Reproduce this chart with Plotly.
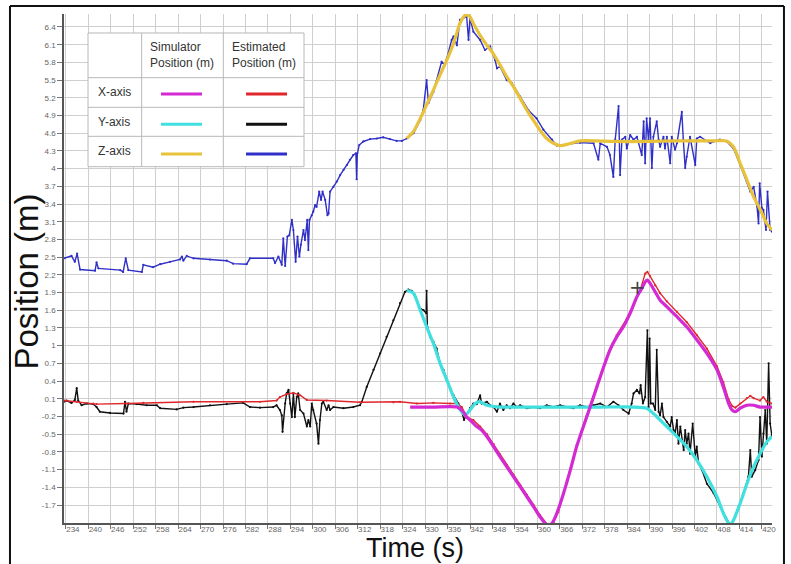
import plotly.graph_objects as go

# ---------------- data ----------------
x_ticks = [234, 240, 246, 252, 258, 264, 270, 276, 282, 288, 294, 300, 306, 312,
           318, 324, 330, 336, 342, 348, 354, 360, 366, 372, 378, 384, 390, 396,
           402, 408, 414, 420]
y_ticks = [6.4, 6.1, 5.8, 5.5, 5.2, 4.9, 4.6, 4.3, 4.0, 3.7, 3.4, 3.1, 2.8, 2.5,
           2.2, 1.9, 1.6, 1.3, 1.0, 0.7, 0.4, 0.1, -0.2, -0.5, -0.8, -1.1, -1.4, -1.7]
y_tick_text = ["6.4", "6.1", "5.8", "5.5", "5.2", "4.9", "4.6", "4.3", "4", "3.7",
               "3.4", "3.1", "2.8", "2.5", "2.2", "1.9", "1.6", "1.3", "1", "0.7",
               "0.4", "0.1", "-0.2", "-0.5", "-0.8", "-1.1", "-1.4", "-1.7"]

# Z-axis estimated position (blue)
z_est_t = [233.5, 235.5, 236.4, 237.0, 237.8, 241.8, 242.2, 242.7, 248.5, 249.3, 250.0,
           250.7, 254.3, 254.7, 257.3, 259.2, 261.8, 264.5, 265.0, 265.4, 266.3, 268.1,
           272.5, 277.0, 278.7, 282.3, 283.2, 289.4, 289.9,
           290.8, 291.7, 292.1, 292.6, 293.2, 293.7, 294.4, 294.8, 295.4, 295.9, 296.4,
           296.8, 297.5, 297.9, 298.5, 298.8, 299.1, 299.7, 300.1, 300.6, 301.0, 301.7,
           302.2, 302.6, 303.3, 303.9, 304.2, 304.6, 305.5, 306.4, 307.3, 308.2, 309.1,
           309.9, 310.8, 311.5, 311.7, 311.9, 312.4, 313.5, 315.3, 317.1, 318.8, 320.6,
           322.4, 323.8,
           325.1, 326.9, 328.7, 329.5, 330.4, 330.9, 332.2, 334.4, 335.3, 335.8, 337.1,
           337.6, 338.5, 339.3, 340.2, 341.1, 341.6, 342.0, 342.9, 344.7, 346.0, 347.4,
           348.7, 349.2, 350.0, 351.8, 353.2, 355.4, 357.6, 359.8, 361.6, 363.9, 365.2,
           367.9, 371.4, 375.0, 376.3, 376.8, 378.6, 379.4, 380.3, 380.8, 381.7, 382.1,
           382.6, 383.5, 383.9, 384.8, 385.7, 386.6, 387.9, 388.4, 388.8, 389.2, 389.7,
           390.1, 390.6, 391.0, 391.9, 392.4, 392.8, 393.7, 394.1, 394.6, 395.5, 395.9,
           396.8, 397.3, 398.6, 399.0, 399.5, 399.9, 400.8, 402.2, 402.6, 403.5, 406.2,
           407.1, 408.8, 410.6, 412.4, 414.2, 416.0, 416.9, 417.8, 418.7, 419.1, 419.4,
           420.0, 420.4, 421.1, 421.5, 422.2, 422.7]
z_est_v = [2.48, 2.52, 2.42, 2.56, 2.29, 2.27, 2.41, 2.31, 2.28, 2.25, 2.48,
           2.28, 2.25, 2.37, 2.33, 2.38, 2.42, 2.46, 2.51, 2.44, 2.52, 2.48,
           2.46, 2.44, 2.39, 2.38, 2.48, 2.48, 2.40,
           2.51, 2.37, 2.82, 2.35, 2.85, 2.87, 3.13, 2.96, 2.42, 2.85, 2.51,
           2.71, 2.96, 2.79, 3.13, 2.62, 3.13, 3.21, 3.27, 3.38, 3.35, 3.61,
           3.47, 3.61, 3.47, 3.21, 3.24, 3.61, 3.69, 3.78, 3.89, 3.98, 4.06,
           4.15, 4.23, 4.26, 3.82, 4.26, 4.40, 4.46, 4.50, 4.51, 4.53, 4.50,
           4.47, 4.47,
           4.51, 4.60, 4.82, 4.99, 5.50, 5.11, 5.30, 5.81, 5.76, 5.87, 6.18,
           6.24, 6.09, 6.52, 6.55, 6.58, 6.18, 6.55, 6.32, 6.18, 6.01, 6.07,
           5.84, 5.70, 5.73, 5.50, 5.45, 5.22, 4.99, 4.85, 4.66, 4.49, 4.39,
           4.41, 4.44, 4.43, 4.15, 4.43, 4.37, 4.23, 3.86, 4.49, 5.06, 3.89,
           4.49, 4.54, 4.34, 4.57, 4.49, 4.54, 4.23, 4.80, 4.09, 4.85, 4.49,
           4.85, 4.01, 4.54, 4.80, 4.49, 4.37, 4.54, 4.34, 4.54, 4.09, 4.54,
           4.32, 4.43, 4.96, 4.49, 4.01, 4.20, 4.54, 4.06, 4.51, 4.54, 4.43,
           4.46, 4.49, 4.46, 4.34, 4.06, 3.78, 3.61, 3.69, 3.36, 3.07, 3.75,
           3.33, 3.30, 2.96, 3.61, 2.96, 2.93]

# Z-axis simulator position (yellow)
z_sim_t = [325.1, 326.9, 328.7, 330.4, 332.2, 334.0, 335.8, 337.6, 339.3, 340.7, 341.8,
           342.9, 344.7, 346.5, 348.2, 350.0, 351.8, 353.6, 355.4, 357.2, 358.9, 360.7,
           362.5, 364.3, 366.1, 367.9, 371.4, 375.9, 380.3, 389.3, 398.2, 407.1, 410.6,
           412.4, 414.2, 416.0, 417.8, 419.6, 421.3, 422.7]
z_sim_v = [4.51, 4.63, 4.85, 5.08, 5.33, 5.59, 5.84, 6.12, 6.46, 6.60, 6.59,
           6.46, 6.26, 6.09, 5.95, 5.76, 5.56, 5.39, 5.19, 4.99, 4.82, 4.65,
           4.51, 4.43, 4.39, 4.41, 4.47, 4.47, 4.46, 4.46, 4.47, 4.47, 4.47,
           4.37, 4.09, 3.81, 3.52, 3.30, 3.07, 2.96]

# X-axis estimated position (red)
x_est_t = [233.5, 236.9, 241.3, 242.2, 250.2, 254.7, 268.1, 285.9, 290.3, 291.2, 293.0,
           294.8, 296.6, 298.4, 303.7, 312.6, 321.5,
           323.3, 327.8, 332.2, 336.7, 338.5, 339.8, 341.1, 342.9, 344.7, 346.5, 348.3,
           350.0, 351.8, 353.6, 355.4, 357.2, 359.0, 360.7, 362.5, 363.4, 364.3, 365.6,
           367.9, 370.5, 373.2, 375.9, 378.6, 381.2, 383.9, 385.7, 387.5, 388.8, 389.4,
           390.1, 391.5, 392.8, 394.6, 397.3, 399.9, 402.6, 405.3, 408.0, 409.7, 411.1,
           412.0, 412.9, 414.2, 416.0, 416.9, 417.8, 419.5, 420.4, 421.3, 422.7]
x_est_v = [0.07, 0.05, 0.02, 0.01, 0.02, 0.03, 0.05, 0.05, 0.07, 0.13, 0.18,
           0.20, 0.16, 0.08, 0.07, 0.04, 0.04,
           0.05, 0.02, 0.03, 0.02, 0.02, -0.04, -0.21, -0.26, -0.37, -0.50, -0.67,
           -0.84, -1.02, -1.19, -1.36, -1.53, -1.70, -1.87, -2.02, -2.04, -2.00, -1.82,
           -1.28, -0.69, -0.18, 0.33, 0.78, 1.18, 1.46, 1.69, 1.94, 2.22, 2.25,
           2.18, 2.02, 1.89, 1.75, 1.57, 1.40, 1.18, 0.95, 0.65, 0.38, 0.09,
           -0.02, -0.05, 0.02, 0.11, 0.15, 0.11, 0.07, 0.13, 0.05, 0.02]

# X-axis simulator position (magenta)
x_sim_t = [326.0, 332.2, 338.5, 340.2, 341.1, 342.5, 343.8, 345.1, 346.5, 348.3, 350.0,
           351.8, 353.6, 355.4, 357.2, 359.0, 360.7, 362.1, 363.0, 363.9, 365.2, 367.0,
           368.8, 370.5, 372.3, 374.1, 375.9, 377.7, 379.4, 381.2, 383.0, 384.8, 386.6,
           387.9, 388.8, 389.4, 390.1, 391.5, 392.8, 394.6, 397.3, 399.9, 402.6, 405.3,
           408.0, 409.7, 411.1, 412.0, 412.9, 414.2, 416.0, 417.8, 419.5, 422.7]
x_sim_v = [-0.04, -0.04, -0.04, -0.12, -0.21, -0.29, -0.37, -0.43, -0.54, -0.71, -0.88,
           -1.05, -1.22, -1.39, -1.56, -1.73, -1.90, -2.01, -2.04, -2.01, -1.84, -1.50,
           -1.11, -0.71, -0.37, -0.04, 0.30, 0.64, 0.93, 1.15, 1.32, 1.55, 1.83,
           1.97, 2.08, 2.11, 2.06, 1.91, 1.77, 1.66, 1.49, 1.32, 1.10, 0.87,
           0.59, 0.30, 0.02, -0.09, -0.12, -0.06, -0.01, -0.01, -0.04, -0.04]

# Y-axis estimated position (black)
y_est_t = [233.5, 234.2, 235.5, 236.4, 236.9, 237.3, 238.2, 239.6, 241.3, 242.2, 243.1,
           245.8, 249.4, 249.8, 250.2, 250.7, 252.9, 255.6, 258.3, 259.2, 263.6, 265.4,
           268.1, 272.5, 277.0, 281.4, 283.2, 285.9, 289.4, 290.3, 291.2, 291.7, 291.9,
           292.6, 293.0, 293.5, 293.9, 294.4, 294.8, 295.2, 295.7, 296.1, 296.6, 297.5,
           298.4, 298.8, 299.3, 299.7, 300.1, 301.0, 301.5, 301.9, 302.4, 302.8, 303.7,
           304.2, 304.6, 305.5, 308.2, 310.8, 312.6, 313.1, 314.4, 316.2, 318.0, 319.7,
           321.5, 323.3, 324.6, 325.5, 326.4,
           327.3, 328.7, 329.6, 330.3, 330.4, 330.6, 331.3, 332.2, 333.1, 334.0, 334.9,
           335.8, 336.7, 337.6, 338.9, 339.8, 340.4, 341.1, 342.0, 342.9, 343.8, 344.7,
           345.1, 346.5, 347.4, 348.3, 349.2, 350.0, 350.9, 351.8, 352.7, 353.6, 354.5,
           355.4, 357.2, 359.0, 360.7, 362.5, 364.3, 366.1, 367.9, 369.6, 371.4, 373.2,
           375.0, 376.8, 378.6, 380.3, 381.7, 383.0, 384.4, 385.2, 385.7, 386.6, 387.3,
           387.6, 388.2, 388.8, 389.4, 389.7, 390.0, 390.3, 390.9, 391.5, 391.9, 392.4,
           392.8, 393.3, 393.7, 394.6, 395.5, 395.9, 396.4, 396.8, 397.3, 397.7, 398.2,
           399.1, 399.5, 399.9, 400.4, 400.8, 401.5, 402.2, 402.6, 403.1, 404.0, 405.3,
           407.1, 408.9, 410.2, 411.1, 411.5, 412.4, 413.8, 415.1, 416.4, 416.9, 417.3,
           418.2, 419.1, 419.5, 420.0, 420.4, 420.9, 421.3, 421.8, 422.2, 422.7]
y_est_v = [0.05, 0.07, 0.03, 0.08, 0.28, 0.07, -0.01, 0.02, 0.01, -0.04, -0.12,
           -0.14, -0.15, 0.05, -0.12, 0.02, 0.01, -0.01, -0.01, -0.06, -0.08, -0.05,
           -0.04, -0.01, 0.01, 0.03, -0.04, -0.05, -0.04, -0.01, -0.09, -0.18, -0.46,
           0.02, 0.19, 0.25, 0.02, -0.21, 0.19, -0.21, 0.13, 0.19, -0.09, -0.15,
           -0.37, -0.26, -0.37, 0.02, -0.09, -0.32, -0.66, -0.26, 0.02, 0.05, -0.09,
           -0.01, -0.09, -0.04, -0.06, -0.04, -0.01, 0.05, 0.30, 0.59, 0.87, 1.15,
           1.43, 1.72, 1.91, 1.95, 1.93,
           1.83, 1.63, 1.60, 1.55, 1.93, 1.32, 1.15, 1.07, 0.95, 0.70, 0.59,
           0.42, 0.28, 0.16, 0.02, -0.12, -0.26, -0.16, -0.06, 0.02, 0.01, 0.16,
           0.02, 0.05, -0.01, -0.04, -0.12, 0.02, -0.09, -0.01, -0.06, 0.02, -0.04,
           -0.01, -0.06, -0.04, -0.06, -0.01, -0.04, -0.01, -0.04, -0.06, -0.01, -0.04,
           -0.01, 0.02, -0.04, 0.05, -0.01, -0.09, -0.15, 0.02, 0.19, 0.25, 0.19,
           0.33, 0.02, 0.13, 1.26, -0.04, 1.12, 0.02, 0.02, -0.09, 0.93, -0.12,
           -0.18, 0.02, -0.21, -0.29, -0.37, -0.21, -0.43, -0.49, -0.26, -0.66, -0.37,
           -0.77, -0.43, -0.66, -0.49, -0.83, -0.32, -0.88, -0.71, -1.00, -1.11, -1.34,
           -1.50, -1.73, -1.90, -2.01, -2.04, -1.96, -1.73, -1.50, -1.22, -0.77, -1.22,
           -1.11, -0.94, -0.21, -0.88, -0.49, -0.09, -0.66, 0.70, -0.32, -0.54]

# Y-axis simulator position (cyan)
y_sim_t = [325.1, 326.9, 328.7, 330.4, 332.2, 334.0, 335.8, 337.6, 338.9, 340.2, 341.1,
           342.0, 343.4, 344.7, 346.5, 350.0, 359.0, 367.9, 376.8, 385.7, 389.2, 391.0,
           392.8, 394.6, 397.3, 399.9, 402.6, 405.3, 408.0, 409.7, 411.1, 411.5, 412.4,
           414.2, 416.0, 417.8, 419.5, 421.3, 422.7]
y_sim_v = [1.94, 1.89, 1.60, 1.32, 1.04, 0.70, 0.42, 0.13, -0.04, -0.15, -0.16,
           -0.09, 0.02, 0.05, -0.01, -0.04, -0.04, -0.04, -0.04, -0.04, -0.06, -0.15,
           -0.26, -0.37, -0.54, -0.71, -0.94, -1.22, -1.56, -1.84, -2.01, -2.04, -1.96,
           -1.67, -1.34, -1.05, -0.83, -0.63, -0.54]

legend_rows = ["X-axis", "Y-axis", "Z-axis"]
sim_colors = ["#d42ad4", "#40e0e0", "#e8c23a"]
est_colors = ["#e0262a", "#111111", "#3030c8"]

# ---------------- figure ----------------
fig = go.Figure()

def est_trace(t, v, color):
    return go.Scatter(x=t, y=v, mode="lines+markers",
                      line=dict(color=color, width=1.4),
                      marker=dict(color=color, size=2.2),
                      showlegend=False, hoverinfo="skip")

def sim_trace(t, v, color):
    return go.Scatter(x=t, y=v, mode="lines",
                      line=dict(color=color, width=3.2, shape="spline", smoothing=0.6),
                      showlegend=False, hoverinfo="skip")

fig.add_trace(est_trace(z_est_t, z_est_v, est_colors[2]))
fig.add_trace(est_trace(y_est_t, y_est_v, est_colors[1]))
fig.add_trace(est_trace(x_est_t, x_est_v, est_colors[0]))
fig.add_trace(sim_trace(z_sim_t, z_sim_v, sim_colors[2]))
fig.add_trace(sim_trace(y_sim_t, y_sim_v, sim_colors[1]))
fig.add_trace(sim_trace(x_sim_t, x_sim_v, sim_colors[0]))

grid = "#cfcfcf"
fig.update_xaxes(range=[233.5, 422.7], tickvals=x_ticks, ticktext=[str(t) for t in x_ticks],
                 showgrid=True, gridcolor=grid, gridwidth=1,
                 showline=True, linecolor="#555555", linewidth=1.5,
                 ticks="outside", ticklen=4, tickcolor="#777777",
                 ticklabelshift=7, ticklabelstandoff=-6, tickangle=0, automargin=False,
                 tickfont=dict(family="Liberation Sans, Arial", size=8, color="#666666"),
                 zeroline=False)
fig.update_yaxes(range=[-2.005, 6.62], tickvals=y_ticks, ticktext=y_tick_text,
                 showgrid=True, gridcolor=grid, gridwidth=1,
                 showline=True, linecolor="#555555", linewidth=1.5,
                 ticks="outside", ticklen=5, tickcolor="#777777", automargin=False,
                 tickfont=dict(family="Liberation Sans, Arial", size=8, color="#666666"),
                 zeroline=False)

shapes = []
# outer frame (three visible edges)
fx0, fx1, fy0, fy1 = -0.0763, 1.0169, -0.09, 1.0157
for (a, b, c, d) in [(fx0, fy0, fx0, fy1), (fx0, fy1, fx1, fy1), (fx1, fy1, fx1, fy0)]:
    shapes.append(dict(type="line", xref="paper", yref="paper", x0=a, y0=b, x1=c, y1=d,
                       line=dict(color="#111111", width=2), layer="above"))
# legend table
tx = [0.0339, 0.1097, 0.2250, 0.3390]
ty = [0.9627, 0.8749, 0.8167, 0.7597, 0.7000]
shapes.append(dict(type="rect", xref="paper", yref="paper", x0=tx[0], x1=tx[3],
                   y0=ty[4], y1=ty[0], line=dict(color="#b8b8b8", width=1),
                   fillcolor="white", layer="above"))
for xv in tx[1:3]:
    shapes.append(dict(type="line", xref="paper", yref="paper", x0=xv, x1=xv,
                       y0=ty[4], y1=ty[0], line=dict(color="#b8b8b8", width=1), layer="above"))
for yv in ty[1:4]:
    shapes.append(dict(type="line", xref="paper", yref="paper", x0=tx[0], x1=tx[3],
                       y0=yv, y1=yv, line=dict(color="#b8b8b8", width=1), layer="above"))
row_y = [0.8428, 0.7833, 0.7250]
for i in range(3):
    shapes.append(dict(type="line", xref="paper", yref="paper", x0=0.1370, x1=0.1949,
                       y0=row_y[i], y1=row_y[i], line=dict(color=sim_colors[i], width=3),
                       layer="above"))
    shapes.append(dict(type="line", xref="paper", yref="paper", x0=0.2571, x1=0.3150,
                       y0=row_y[i], y1=row_y[i], line=dict(color=est_colors[i], width=3),
                       layer="above"))

annotations = []
lf = dict(family="Liberation Sans, Arial", size=12, color="#333333")
annotations.append(dict(xref="paper", yref="paper", x=0.1186, y=0.9190, xanchor="left",
                        yanchor="middle", text="Simulator<br>Position (m)", showarrow=False,
                        font=lf, align="left"))
annotations.append(dict(xref="paper", yref="paper", x=0.2340, y=0.9190, xanchor="left",
                        yanchor="middle", text="Estimated<br>Position (m)", showarrow=False,
                        font=lf, align="left"))
row_text_y = [0.8474, 0.7886, 0.7308]
for i in range(3):
    annotations.append(dict(xref="paper", yref="paper", x=0.0452, y=row_text_y[i],
                            xanchor="left", yanchor="middle", text=legend_rows[i],
                            showarrow=False, font=lf))
# axis titles
annotations.append(dict(xref="paper", yref="paper", x=0.4958, y=-0.049, xanchor="center",
                        yanchor="middle", text="Time (s)", showarrow=False,
                        font=dict(family="Liberation Sans, Arial", size=27, color="#111111")))
annotations.append(dict(xref="paper", yref="paper", x=-0.053, y=0.4754, xanchor="center",
                        yanchor="middle", text="Position (m)", showarrow=False, textangle=-90,
                        font=dict(family="Liberation Sans, Arial", size=33, color="#111111")))
# cursor mark
annotations.append(dict(x=386.7, y=1.99, text="+", showarrow=False, xanchor="center",
                        yanchor="middle",
                        font=dict(family="DejaVu Sans", size=20, color="#444444")))

fig.update_layout(width=791, height=564, margin=dict(l=64, r=19, t=14, b=41),
                  plot_bgcolor="white", paper_bgcolor="white",
                  shapes=shapes, annotations=annotations, showlegend=False)

fig.write_html("out.html", config={"displayModeBar": False},
               post_script="document.body.style.margin='0px';"
                           "document.body.style.overflow='hidden';")
